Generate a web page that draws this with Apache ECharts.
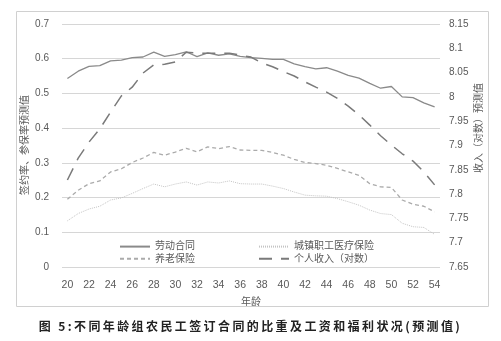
<!DOCTYPE html>
<html>
<head>
<meta charset="utf-8">
<script src="https://cdn.jsdelivr.net/npm/echarts@6/dist/echarts.min.js"></script>
<style>
  html, body { margin: 0; padding: 0; background: #fff; }
  #wrap { position: relative; width: 501px; height: 341px; }
  #chart { position: absolute; left: 0; top: 0; width: 501px; height: 341px; }
  #caption {
    position: absolute; left: 0; width: 501px; top: 318px;
    text-align: center; font: bold 12px "Noto Sans CJK SC", sans-serif;
    letter-spacing: 2.4px; color: #222; line-height: 16px;
  }
</style>
</head>
<body>
<div id="wrap">
  <div id="chart"></div>
  <div id="caption">图 5:不同年龄组农民工签订合同的比重及工资和福利状况(预测值)</div>
</div>
<script>
// Ages 20–54
const ages = [20,21,22,23,24,25,26,27,28,29,30,31,32,33,34,35,36,37,38,39,40,41,42,43,44,45,46,47,48,49,50,51,52,53,54];

// Predicted share signing a labour contract
const contractRate = [0.543,0.564,0.578,0.580,0.594,0.596,0.603,0.605,0.619,0.607,0.612,0.620,0.606,0.617,0.610,0.614,0.607,0.603,0.601,0.598,0.598,0.585,0.577,0.571,0.574,0.564,0.552,0.544,0.529,0.515,0.520,0.490,0.488,0.473,0.461];

// Predicted urban employee medical insurance coverage
const medicalRate = [0.133,0.154,0.167,0.175,0.193,0.199,0.212,0.226,0.239,0.231,0.239,0.245,0.236,0.245,0.242,0.248,0.240,0.239,0.239,0.233,0.226,0.216,0.207,0.205,0.204,0.197,0.188,0.178,0.164,0.154,0.151,0.126,0.116,0.114,0.094];

// Predicted pension insurance coverage
const pensionRate = [0.195,0.221,0.240,0.248,0.274,0.283,0.301,0.314,0.330,0.322,0.331,0.342,0.332,0.346,0.341,0.347,0.337,0.336,0.336,0.330,0.322,0.310,0.301,0.298,0.293,0.284,0.274,0.264,0.240,0.231,0.229,0.193,0.181,0.175,0.159];

// Predicted log personal income (right axis)
const logIncome = [7.829,7.874,7.907,7.934,7.969,8.002,8.020,8.049,8.066,8.067,8.072,8.092,8.090,8.090,8.090,8.090,8.086,8.082,8.070,8.062,8.052,8.043,8.031,8.020,8.010,7.997,7.981,7.963,7.942,7.920,7.901,7.883,7.868,7.846,7.819];

const seriesNames = ['劳动合同', '城镇职工医疗保险', '养老保险', '个人收入（对数）'];

const FONT = '"Liberation Sans", "Noto Sans CJK SC", sans-serif';
const LABEL = '#595959';

const chart = echarts.init(document.getElementById('chart'), null, { renderer: 'canvas' });

// Legend entries show only the line sample, no marker
const legendBase = {
  orient: 'vertical', top: 236, itemWidth: 30, itemHeight: 14, itemGap: 1,
  itemStyle: { opacity: 0 },
  textStyle: { fontSize: 10, color: LABEL, fontFamily: FONT }
};

chart.setOption({
  animation: false,
  textStyle: { fontFamily: FONT },
  grid: { left: 62, right: 61, top: 24, bottom: 74 },
  legend: [
    Object.assign({ left: 114, data: [seriesNames[0], seriesNames[2]] }, legendBase),
    Object.assign({ left: 253, data: [seriesNames[1], seriesNames[3]] }, legendBase)
  ],
  xAxis: {
    type: 'category',
    data: ages,
    boundaryGap: true,
    axisLine: { show: false },
    axisTick: { show: false },
    axisLabel: { interval: 1, fontSize: 10.5, color: LABEL, margin: 13 },
    name: '年龄',
    nameLocation: 'middle',
    nameGap: 30,
    nameTextStyle: { fontSize: 10, color: LABEL }
  },
  yAxis: [
    {
      type: 'value', min: 0, max: 0.7, interval: 0.1,
      axisLine: { show: false }, axisTick: { show: false },
      axisLabel: { fontSize: 10, color: LABEL, margin: 13 },
      splitLine: { lineStyle: { color: '#d6d6d6', width: 1.2 } }
    },
    {
      type: 'value', min: 7.65, max: 8.15, interval: 0.05,
      axisLine: { show: false }, axisTick: { show: false },
      axisLabel: {
        fontSize: 10, color: LABEL, margin: 9,
        formatter: v => String(parseFloat(v.toFixed(2)))
      },
      splitLine: { show: false }
    }
  ],
  graphic: [
    {
      type: 'rect', silent: true, z: -1,
      shape: { x: 16.5, y: 11.5, width: 472, height: 295 },
      style: { fill: 'none', stroke: '#d0d0d0', lineWidth: 1 }
    },
    {
      type: 'text', x: 25, y: 145, rotation: Math.PI / 2,
      style: { text: '签约率、参保率预测值', fill: LABEL, font: '10px ' + FONT, textAlign: 'center', textVerticalAlign: 'middle' }
    },
    {
      type: 'text', x: 479, y: 128, rotation: Math.PI / 2,
      style: { text: '收入（对数）预测值', fill: LABEL, font: '10px ' + FONT, textAlign: 'center', textVerticalAlign: 'middle' }
    }
  ],
  series: [
    {
      name: seriesNames[0], type: 'line', data: contractRate, yAxisIndex: 0,
      symbol: 'none', lineStyle: { color: '#8a8a8a', width: 1.3, type: 'solid' },
      itemStyle: { color: '#8a8a8a' }, z: 4
    },
    {
      name: seriesNames[1], type: 'line', data: medicalRate, yAxisIndex: 0,
      symbol: 'none', lineStyle: { color: '#c4c4c4', width: 1, type: [1, 1] },
      itemStyle: { color: '#c4c4c4' }, z: 2
    },
    {
      name: seriesNames[2], type: 'line', data: pensionRate, yAxisIndex: 0,
      symbol: 'none', lineStyle: { color: '#ababab', width: 1.3, type: [4, 3] },
      itemStyle: { color: '#ababab' }, z: 3
    },
    {
      name: seriesNames[3], type: 'line', data: logIncome, yAxisIndex: 1,
      symbol: 'none', lineStyle: { color: '#7a7a7a', width: 1.5, type: [13, 9] },
      itemStyle: { color: '#7a7a7a' }, z: 5
    }
  ]
});
</script>
</body>
</html>
